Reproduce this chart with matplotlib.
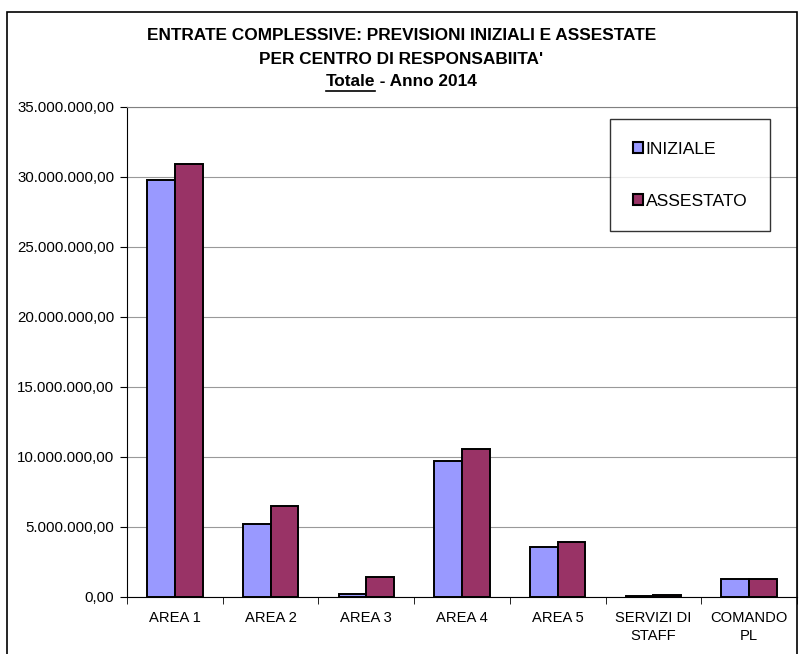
import matplotlib.pyplot as plt
import matplotlib.ticker as mticker
from matplotlib.patches import Rectangle
from matplotlib.lines import Line2D
import numpy as np

plt.rcParams['font.family'] = ['Liberation Sans', 'DejaVu Sans']

categories = ['AREA 1', 'AREA 2', 'AREA 3', 'AREA 4', 'AREA 5', 'SERVIZI DI\nSTAFF', 'COMANDO\nPL']
iniziale = [29800000, 5200000, 250000, 9700000, 3600000, 50000, 1300000]
assestato = [30950000, 6500000, 1450000, 10600000, 3900000, 150000, 1300000]

W, H = 803, 654
fig = plt.figure(figsize=(W / 100, H / 100), dpi=100)
ax = fig.add_axes([127 / W, 1 - 597 / H, (797 - 127) / W, (597 - 107) / H])

x = np.arange(len(categories))
w = 0.29
ax.bar(x - w / 2, iniziale, w, color='#9999FF', edgecolor='black', linewidth=1.4,
       label='INIZIALE', zorder=3)
ax.bar(x + w / 2, assestato, w, color='#993366', edgecolor='black', linewidth=1.4,
       label='ASSESTATO', zorder=3)

ax.set_xlim(-0.5, len(categories) - 0.5)
ax.set_ylim(0, 35000000)
ax.yaxis.set_major_locator(mticker.MultipleLocator(5000000))


def fmt(v, pos):
    s = f'{v:,.2f}'
    return s.replace(',', 'X').replace('.', ',').replace('X', '.')


ax.yaxis.set_major_formatter(mticker.FuncFormatter(fmt))
ax.grid(axis='y', color='#999999', linewidth=0.8, zorder=0)

ax.set_xticks(x)
ax.set_xticklabels(categories, fontsize=10.6, linespacing=1.35)
ax.set_xticks(np.arange(len(categories) + 1) - 0.5, minor=True)
ax.tick_params(axis='x', which='major', length=0, pad=10)
ax.tick_params(axis='x', which='minor', length=5, color='black')
ax.tick_params(axis='y', length=5, labelsize=10.8, pad=4)

ax.spines['left'].set_color('black')
ax.spines['bottom'].set_color('black')
ax.spines['top'].set_color('#808080')
ax.spines['right'].set_color('#808080')

leg = ax.legend(loc='upper left', bbox_to_anchor=((610 - 127) / 670, 1 - (119 - 107) / 490),
                frameon=True, fancybox=False, edgecolor='black', fontsize=12.6,
                handlelength=0.6, handleheight=0.6, handletextpad=0.15,
                labelspacing=2.1, borderpad=1.3, borderaxespad=0)
leg.get_frame().set_linewidth(1.0)
for p in leg.get_patches():
    p.set_linewidth(1.5)

# figure border
fig.patches.append(Rectangle((7 / W, -0.01), (797 - 7) / W, 1 - 12 / H + 0.01,
                             transform=fig.transFigure, fill=False,
                             edgecolor='black', linewidth=1.2))

fs = 12.4
fig.text(0.5, 1 - 36 / H, 'ENTRATE COMPLESSIVE: PREVISIONI INIZIALI E ASSESTATE',
         ha='center', va='center', fontsize=fs, fontweight='bold')
fig.text(0.5, 1 - 59 / H, "PER CENTRO DI RESPONSABIITA'",
         ha='center', va='center', fontsize=fs, fontweight='bold')
t1 = fig.text(0.5, 1 - 82 / H, 'Totale', ha='right', va='center',
              fontsize=fs, fontweight='bold')
t2 = fig.text(0.5, 1 - 82 / H, ' - Anno 2014', ha='left', va='center',
              fontsize=fs, fontweight='bold')

# recentre line 3 and underline "Totale"
fig.canvas.draw()
r = fig.canvas.get_renderer()
b1 = t1.get_window_extent(r)
b2 = t2.get_window_extent(r)
total = b1.width + b2.width
t1.set_x(0.5 - total / 2 / W + b1.width / W)
t2.set_x(0.5 - total / 2 / W + b1.width / W)
x0 = (0.5 * W - total / 2) / W
x1 = x0 + b1.width / W
yl = 1 - 91 / H
fig.add_artist(Line2D([x0, x1], [yl, yl], transform=fig.transFigure,
                      color='black', linewidth=1.2))

fig.savefig('out.png', dpi=100)
